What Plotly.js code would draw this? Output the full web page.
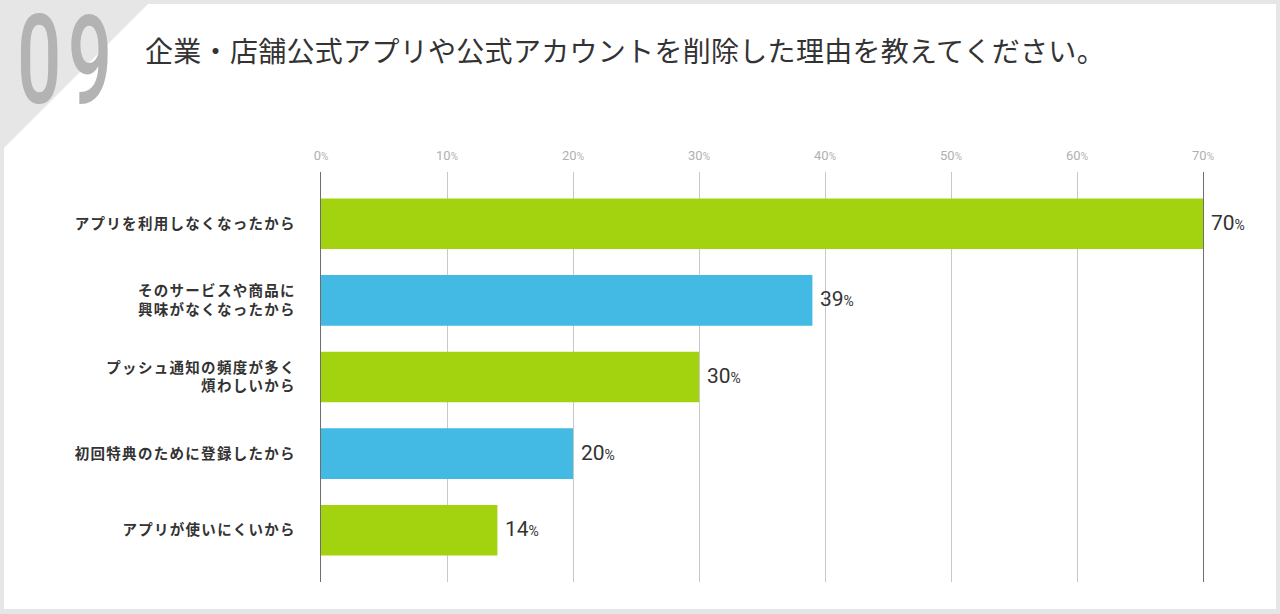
<!DOCTYPE html>
<html>
<head>
<meta charset="utf-8">
<script src="https://cdn.plot.ly/plotly-3.0.1.min.js"></script>
<style>
html,body{margin:0;padding:0;background:#e6e6e6;width:1280px;height:614px;overflow:hidden;}
#panel{position:absolute;left:4px;top:4px;width:1272px;height:605px;background:#fff;
clip-path:polygon(144px 0,100% 0,100% 100%,0 100%,0 144px);}
#chart{position:absolute;left:0;top:0;width:1280px;height:614px;}
#qno{position:absolute;left:17px;top:11px;font-family:Roboto,sans-serif;font-weight:500;font-size:124px;line-height:100px;
color:#b3b3b3;letter-spacing:10px;transform:scaleX(0.63);transform-origin:0 0;white-space:nowrap;}
#chart .gtitle{letter-spacing:0.3px;}
#chart .ytick text{letter-spacing:1.3px;}
</style>
</head>
<body>
<div id="panel"></div>
<div id="qno"></div>
<div id="chart"></div>
<script>
const categories = [
  "アプリを利用しなくなったから",
  "そのサービスや商品に<br>興味がなくなったから",
  "プッシュ通知の頻度が多く<br>煩わしいから",
  "初回特典のために登録したから",
  "アプリが使いにくいから"
];
const values = [70, 39, 30, 20, 14];
const barColors = ["#a3d30f", "#43bae4", "#a3d30f", "#43bae4", "#a3d30f"];
const tickValues = [0, 10, 20, 30, 40, 50, 60, 70];
const tickLabels = tickValues.map(v => v + '<span style="font-size:10px">%</span>');
const chartTitle = "企業・店舗公式アプリや公式アカウントを削除した理由を教えてください。";
const questionNo = "09";

document.getElementById('qno').textContent = questionNo;

const W = 1280, H = 614, L = 321, R = 77, T = 172, B = 32;

const trace = {
  type: 'bar',
  orientation: 'h',
  x: values,
  y: categories,
  width: 0.66,
  marker: {color: barColors, line: {width: 0}},
  hoverinfo: 'skip'
};

const valueLabels = values.map((v, i) => ({
  x: v, y: categories[i], xref: 'x', yref: 'y',
  text: v + '<span style="font-size:14px">%</span>',
  xanchor: 'left', yanchor: 'middle', xshift: 6, yshift: 1,
  showarrow: false,
  font: {family: 'Roboto, "Noto Sans", sans-serif', size: 21, color: '#333'}
}));

const layout = {
  width: W, height: H,
  margin: {l: L, r: R, t: T, b: B, pad: 0},
  paper_bgcolor: 'rgba(0,0,0,0)',
  plot_bgcolor: 'rgba(0,0,0,0)',
  showlegend: false,
  title: {
    text: chartTitle,
    x: 145 / W, xref: 'container', xanchor: 'left',
    y: 1 - 52 / H, yref: 'container', yanchor: 'middle',
    font: {family: '"Noto Sans CJK JP", sans-serif', size: 28, color: '#333'}
  },
  xaxis: {
    side: 'top',
    range: [0, 70],
    tickvals: tickValues,
    ticktext: tickLabels,
    tickfont: {family: 'Roboto, sans-serif', size: 13, color: '#b0b0b0'},
    ticks: '',
    ticklabelstandoff: 8,
    showgrid: true,
    gridcolor: '#c8c8c8',
    gridwidth: 1,
    zeroline: false,
    showline: false,
    fixedrange: true
  },
  yaxis: {
    type: 'category',
    range: [4.675, -0.675],
    showgrid: false,
    zeroline: false,
    showline: true,
    mirror: true,
    linecolor: '#6e6e6e',
    linewidth: 1.2,
    ticks: '',
    ticklabelstandoff: 21,
    tickfont: {family: '"Noto Sans CJK JP", sans-serif', size: 14.5, color: '#333', weight: 700},
    fixedrange: true
  },
  annotations: valueLabels
};

Plotly.newPlot('chart', [trace], layout, {displayModeBar: false, staticPlot: true});
</script>
</body>
</html>
